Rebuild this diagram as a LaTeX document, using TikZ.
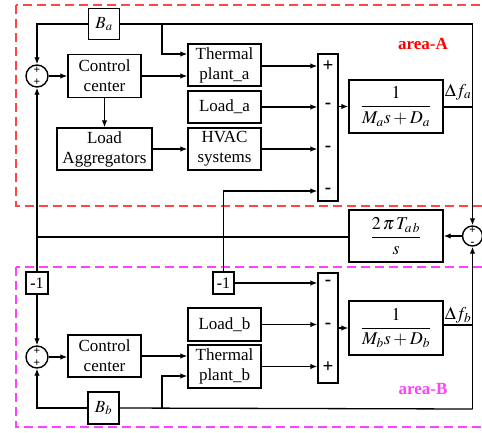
\documentclass[tikz,border=0pt]{standalone}
\usepackage{amsmath}
\usepackage{mathptmx}
\usepackage{fontspec}
\setmainfont{Liberation Serif}
\usetikzlibrary{arrows.meta,calc}
\definecolor{dashred}{RGB}{255,70,70}
\definecolor{dashmag}{RGB}{255,64,255}
\definecolor{labred}{RGB}{255,0,0}
\definecolor{labmag}{RGB}{255,64,255}
\tikzset{
  blk/.style={draw, line width=1.4pt, inner sep=0pt, align=center, font=\fontsize{17}{20}\selectfont},
  wire/.style={line width=1.3pt},
  arr/.style={line width=1.3pt, -{Latex[length=7pt,width=5.5pt]}},
  sumc/.style={circle, draw, line width=1.4pt, minimum size=22pt, inner sep=0pt, align=center, font=\bfseries\fontsize{11.5}{11.5}\selectfont},
  sgn/.style={font=\bfseries\fontsize{19}{19}\selectfont, inner sep=0pt},
  areabox/.style={line width=1.3pt, dash pattern=on 9pt off 5pt},
  fr/.style={font=\fontsize{18}{22}\selectfont},
}
\begin{document}
\begin{tikzpicture}[x=1pt,y=-1pt]
\useasboundingbox (0,0) rectangle (482,432);
\fill[white] (0,0) rectangle (482,432);
\clip (0,0) rectangle (482,432);

% area boxes
\draw[areabox, dashred] (16,5) rectangle (495,206);
\draw[areabox, dashmag] (16,267) rectangle (495,427);

% area A blocks
\node[blk, minimum width=31pt, minimum height=31pt] (Ba) at (104,24) {$B_a$};
\node[sumc] (sumA) at (37,76) {+\\+};
\node[blk, minimum width=73pt, minimum height=43pt] (ccA) at (104.5,76) {Control\\center};
\node[blk, minimum width=73pt, minimum height=42pt] (thA) at (224.5,65) {Thermal\\plant\_a};
\node[blk, minimum width=73pt, minimum height=32pt] (loadA) at (224.5,107) {Load\_a};
\node[blk, minimum width=73pt, minimum height=42pt] (hvacA) at (224.5,149) {HVAC\\systems};
\node[blk, minimum width=95pt, minimum height=42pt] (laA) at (104.5,149) {Load\\Aggregators};
\node[blk, minimum width=20pt, minimum height=147pt] (barA) at (328,127.5) {};
\node[sgn] at (328,66) {+};
\node[sgn] at (328,106) {-};
\node[sgn] at (328,149) {-};
\node[sgn] at (328,191) {-};
\node[blk, fr, minimum width=94pt, minimum height=53pt] (tfA) at (396,106.5) {$\dfrac{1}{M_a s+D_a}$};
\node[fr, inner sep=0pt] (dfa) at (458,92) {$\Delta f_a$};
\node[font=\bfseries\fontsize{17}{20}\selectfont, text=labred, inner sep=0pt] (lblA) at (423,44) {area-A};

% tie line
\node[blk, fr, minimum width=94pt, minimum height=52pt] (ptie) at (396,236) {$\dfrac{2\,\pi\, T_{a\,b}}{s}$};
\node[sumc, minimum size=20pt] (sumR) at (472.5,236) {+\\-};

% area B blocks
\node[blk, minimum width=22pt, minimum height=22pt, font=\fontsize{16}{16}\selectfont] (m1a) at (37,283) {\textbf{-}1};
\node[blk, minimum width=21pt, minimum height=22pt, font=\fontsize{16}{16}\selectfont] (m1b) at (223.5,283) {\textbf{-}1};
\node[sumc] (sumB) at (37,357) {+\\+};
\node[blk, minimum width=73pt, minimum height=42pt] (ccB) at (104.5,356) {Control\\center};
\node[blk, minimum width=73pt, minimum height=33pt] (loadB) at (224.5,324.5) {Load\_b};
\node[blk, minimum width=73pt, minimum height=43pt] (thB) at (224.5,366.5) {Thermal\\plant\_b};
\node[blk, minimum width=31pt, minimum height=32pt] (Bb) at (103.5,408) {$B_b$};
\node[blk, minimum width=20pt, minimum height=110pt] (barB) at (328,328) {};
\node[sgn] at (328,283) {-};
\node[sgn] at (328,326) {-};
\node[sgn] at (328,367) {+};
\node[blk, fr, minimum width=94pt, minimum height=54pt] (tfB) at (396,328) {$\dfrac{1}{M_b s+D_b}$};
\node[fr, inner sep=0pt] (dfb) at (458,315) {$\Delta f_b$};
\node[font=\bfseries\fontsize{17}{20}\selectfont, text=labmag, inner sep=0pt] (lblB) at (423,389) {area-B};

% coordinates
\coordinate (rtop) at (472.5,24);
\coordinate (ra) at (472.5,107);
\coordinate (rb) at (472.5,325);
\coordinate (rbot) at (472.5,409);
\coordinate (ja) at (162,24);
\coordinate (jbb) at (162,409);
\coordinate (jl) at (37,237);
\coordinate (jm) at (223.5,237);

% area A wiring
\draw[wire] (tfA.east |- ra) -- (ra);
\draw[wire] (rtop) -- (Ba.east);
\draw[arr] (rtop) -- (sumR.north);
\draw[arr] (Ba.west) -| (sumA.north);
\draw[arr] (ja) |- ($(thA.west)+(0,-11)$);
\draw[arr] (sumA.east) -- (sumA.east -| ccA.west);
\draw[arr] (ccA.east) -- (ccA.east -| thA.west);
\draw[arr] (ccA.south) -- (laA.north);
\draw[arr] (laA.east) -- (laA.east -| hvacA.west);
\draw[arr] ($(thA.east)+(0,1)$) -- ($(thA.east -| barA.west)+(0,1)$);
\draw[arr] (loadA.east) -- (loadA.east -| barA.west);
\draw[arr] (hvacA.east) -- (hvacA.east -| barA.west);
\draw[arr] (jm) |- (barA.west |- 0,191);
\draw[arr] (barA.east |- tfA.west) -- (tfA.west);

% tie wiring
\draw[arr] (sumR.west) -- (ptie.east);
\draw[wire] (ptie.west |- jl) -- (jl);
\draw[arr] (jl) -- (sumA.south);
\draw[wire] (jl) -- (m1a.north);
\draw[wire] (jm) -- (m1b.north);
\draw[arr] (m1a.south) -- (sumB.north);
\draw[arr] (m1b.east) -- (m1b.east -| barB.west);

% area B wiring
\draw[arr] (sumB.east) -- (sumB.east -| ccB.west);
\draw[arr] (ccB.east) -- (ccB.east -| thB.west);
\draw[arr] (loadB.east) -- (loadB.east -| barB.west);
\draw[arr] (thB.east) -- (thB.east -| barB.west);
\draw[arr] (barB.east |- tfB.west) -- (tfB.west);
\draw[wire] (tfB.east |- rb) -- (rb);
\draw[arr] (rbot) -- (sumR.south);
\draw[wire] (rbot) -- (Bb.east);
\draw[arr] (Bb.west) -| (sumB.south);
\draw[arr] (jbb) |- ($(thB.west)+(0,9.5)$);
\end{tikzpicture}
\end{document}
